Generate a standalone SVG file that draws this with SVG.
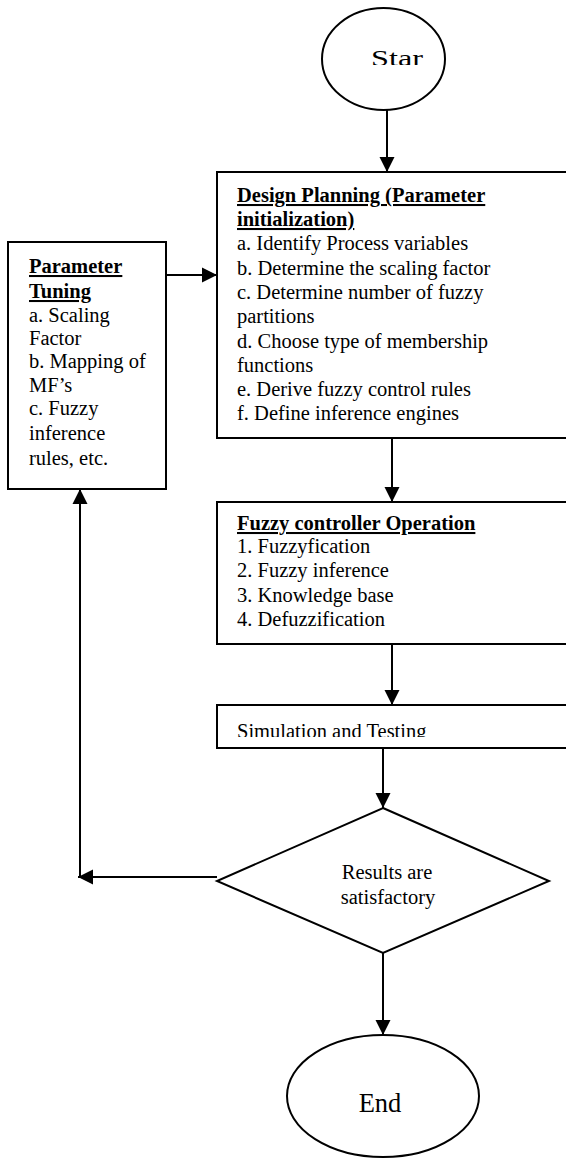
<svg xmlns="http://www.w3.org/2000/svg" width="566" height="1159" viewBox="0 0 566 1159">
<style>
.shape{fill:#fff;stroke:#000;stroke-width:2}
.t{font-family:"Liberation Serif","Times New Roman",serif;font-size:20.5px;fill:#000}
.b{font-weight:bold;text-decoration:underline}
.c{stroke:#000;stroke-width:2;fill:none;marker-end:url(#ah)}
</style>
<defs>
<marker id="ah" markerUnits="userSpaceOnUse" markerWidth="16" markerHeight="16" viewBox="0 0 16 16" refX="15" refY="8" orient="auto">
<path d="M0,0.5 L15,8 L0,15.5 Z" fill="#000"/>
</marker>
<clipPath id="clipStar"><rect x="300" y="0" width="200" height="65"/></clipPath>
<clipPath id="clipSim"><rect x="200" y="700" width="366" height="37"/></clipPath>
</defs>
<g id="connectors">
<line class="c" x1="387" y1="110" x2="387" y2="172"/>
<line class="c" x1="166" y1="275" x2="217" y2="275"/>
<line class="c" x1="392" y1="438" x2="392" y2="502"/>
<line class="c" x1="392" y1="644" x2="392" y2="705"/>
<line class="c" x1="383" y1="748" x2="383" y2="808"/>
<line class="c" x1="217" y1="877" x2="78" y2="877"/>
<line class="c" x1="80" y1="877" x2="80" y2="489"/>
<line class="c" x1="383" y1="953" x2="383" y2="1035"/>
</g>
<g id="start">
<ellipse class="shape" cx="383.5" cy="59" rx="61.5" ry="51"/>
<text class="t" x="371" y="66" textLength="52" lengthAdjust="spacingAndGlyphs" style="font-size:23px" clip-path="url(#clipStar)">Star</text>
</g>
<g id="design">
<rect class="shape" x="217" y="172" width="360" height="266"/>
<text class="t b" x="237" y="202">Design Planning (Parameter</text>
<text class="t b" x="237" y="226">initialization)</text>
<text class="t" x="237" y="250">a. Identify Process variables</text>
<text class="t" x="237" y="275">b. Determine the scaling factor</text>
<text class="t" x="237" y="299">c. Determine number of fuzzy</text>
<text class="t" x="237" y="323">partitions</text>
<text class="t" x="237" y="348">d. Choose type of membership</text>
<text class="t" x="237" y="372">functions</text>
<text class="t" x="237" y="396">e. Derive fuzzy control rules</text>
<text class="t" x="237" y="420">f. Define inference engines</text>
</g>
<g id="tuning">
<rect class="shape" x="8" y="242" width="158" height="247"/>
<text class="t b" x="29" y="273">Parameter</text>
<text class="t b" x="29" y="298">Tuning</text>
<text class="t" x="29" y="322">a. Scaling</text>
<text class="t" x="29" y="345">Factor</text>
<text class="t" x="29" y="368">b. Mapping of</text>
<text class="t" x="29" y="392">MF’s</text>
<text class="t" x="29" y="415">c. Fuzzy</text>
<text class="t" x="29" y="440">inference</text>
<text class="t" x="29" y="465">rules, etc.</text>
</g>
<g id="fuzzy">
<rect class="shape" x="217" y="502" width="360" height="142"/>
<text class="t b" x="237" y="530">Fuzzy controller Operation</text>
<text class="t" x="237" y="553">1. Fuzzyfication</text>
<text class="t" x="237" y="577">2. Fuzzy inference</text>
<text class="t" x="237" y="602">3. Knowledge base</text>
<text class="t" x="237" y="626">4. Defuzzification</text>
</g>
<g id="simulation">
<rect class="shape" x="217" y="705" width="360" height="43"/>
<text class="t" x="237" y="738" clip-path="url(#clipSim)">Simulation and Testing</text>
</g>
<g id="decision">
<polygon class="shape" points="383,808 549,881 383,953 217,881"/>
<text class="t" x="387" y="879" text-anchor="middle">Results are</text>
<text class="t" x="388" y="904" text-anchor="middle">satisfactory</text>
</g>
<g id="end">
<ellipse class="shape" cx="383" cy="1096" rx="96" ry="61"/>
<text class="t" x="380" y="1112" text-anchor="middle" style="font-size:26.5px">End</text>
</g>
</svg>
